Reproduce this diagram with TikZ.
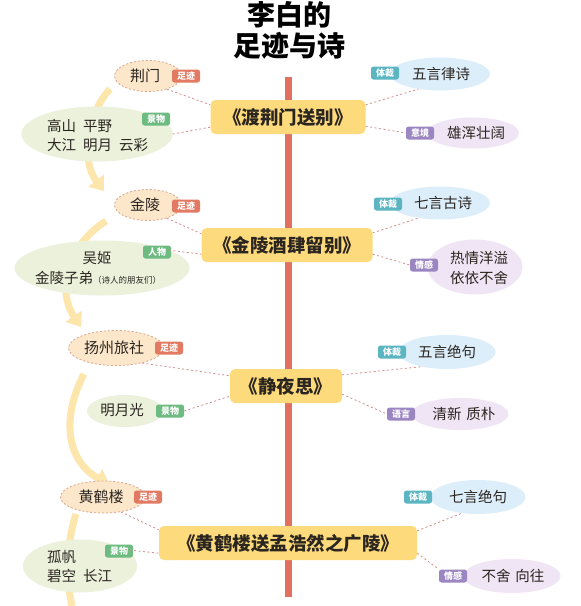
\documentclass[tikz,border=0pt]{standalone}
\usepackage{fontspec}
\setmainfont{Noto Sans CJK SC}
\usetikzlibrary{arrows.meta,shapes.geometric}
\definecolor{redline}{HTML}{E2705F}
\definecolor{poemfill}{HTML}{FDDB7C}
\definecolor{fpfill}{HTML}{FCE7CA}
\definecolor{fpdash}{HTML}{D9A48E}
\definecolor{fptag}{HTML}{E27A63}
\definecolor{scfill}{HTML}{EBF1DB}
\definecolor{sctag}{HTML}{6DBB80}
\definecolor{bluefill}{HTML}{DDEEFB}
\definecolor{bluetag}{HTML}{5CB6C2}
\definecolor{purfill}{HTML}{F0E5F4}
\definecolor{purtag}{HTML}{9C86C2}
\definecolor{arrowc}{HTML}{FCE6AC}
\definecolor{dotc}{HTML}{D48C8C}
\definecolor{inkc}{HTML}{2B2520}
\tikzset{
  poem/.style={rectangle, rounded corners=5pt, fill=poemfill, minimum height=34pt, inner sep=0pt, text=inkc, font=\fontsize{18.5}{18.5}\selectfont\bfseries},
  ell/.style={ellipse, inner sep=0pt},
  fpell/.style={ell, fill=fpfill, draw=fpdash, line width=0.8pt, dash pattern=on 2pt off 2pt},
  scell/.style={ell, fill=scfill},
  blell/.style={ell, fill=bluefill},
  puell/.style={ell, fill=purfill},
  tagbox/.style={rectangle, rounded corners=2.5pt, minimum width=28pt, minimum height=13pt, inner sep=0pt, text=white, font=\fontsize{9}{9}\selectfont\bfseries},
  txt/.style={inner sep=0pt, text=inkc, font=\fontsize{14.5}{14.5}\selectfont},
  fptxt/.style={inner sep=0pt, text=inkc, font=\fontsize{15}{15}\selectfont},
  conn/.style={draw=dotc, line width=0.8pt, dash pattern=on 2pt off 2.5pt},
  flow/.style={draw=arrowc, line width=7pt},
  flowtip/.style={flow, -{Triangle[width=19pt,length=13pt]}}
}
\begin{document}
\begin{tikzpicture}[x=1pt,y=-1pt]
\useasboundingbox (0,0) rectangle (581,606);
\fill[white] (0,0) rectangle (581,606);
% timeline
\coordinate (ltop) at (288,77);
\coordinate (lbot) at (288,597);
\draw[redline, line width=7pt] (ltop) -- (lbot);
% flow arrows
\coordinate (a1s) at (110,89);  \coordinate (a1e) at (104,191);
\coordinate (a2s) at (106,221); \coordinate (a2e) at (81,327);
\coordinate (a3s) at (84,374);  \coordinate (a3e) at (109,484);
\coordinate (a4s) at (76,514);  \coordinate (a4e) at (72,606);
\draw[flowtip] (a1s) .. controls (88,112) and (80,160) .. (a1e);
\draw[flowtip] (a2s) .. controls (68,245) and (56,290) .. (a2e);
\draw[flowtip] (a3s) .. controls (60,420) and (68,462) .. (a3e);
\draw[flow] (a4s) .. controls (66,545) and (66,580) .. (a4e);
% title
\node[inner sep=0pt, text=black, font=\fontsize{28}{28}\selectfont\bfseries] (t1) at (289,15) {李白的};
\node[inner sep=0pt, text=black, font=\fontsize{28}{28}\selectfont\bfseries] (t2) at (289,46) {足迹与诗};

% ---------- row 1
\node[fpell, minimum width=67pt, minimum height=31pt] (fp1) at (148,76) {};
\node[fptxt] (fp1t) at (145,76) {荆门};
\node[tagbox, fill=fptag] (fp1g) at (186,76) {足迹};
\node[scell, minimum width=151pt, minimum height=55pt] (sc1) at (97,134) {};
\node[txt, anchor=west] (sc1a) at (47,126) {高山\hspace{7pt}平野};
\node[txt, anchor=west] (sc1b) at (47,145) {大江\hspace{7pt}明月\hspace{7pt}云彩};
\node[tagbox, fill=sctag] (sc1g) at (156,119) {景物};
\node[poem, minimum width=155pt] (b1) at (288,117) {《渡荆门送别》};
\node[blell, minimum width=100pt, minimum height=33pt] (g1) at (440,74) {};
\node[tagbox, fill=bluetag] (g1g) at (385,73) {体裁};
\node[txt] (g1t) at (441,74) {五言律诗};
\node[puell, minimum width=92pt, minimum height=31pt] (e1) at (473,133) {};
\node[tagbox, fill=purtag] (e1g) at (420,133) {意境};
\node[txt] (e1t) at (476,133) {雄浑壮阔};
\draw[conn] (fp1.-35) -- ([yshift=-5pt]b1.north west);
\draw[conn] (sc1.east) -- ([yshift=7pt]b1.south west);
\draw[conn] ([yshift=-5pt]b1.north east) -- (g1.-145);
\draw[conn] ([yshift=8pt]b1.south east) -- (e1g.west);

% ---------- row 2
\node[fpell, minimum width=67pt, minimum height=31pt] (fp2) at (148,205) {};
\node[fptxt] (fp2t) at (145,205) {金陵};
\node[tagbox, fill=fptag] (fp2g) at (186,206) {足迹};
\node[scell, minimum width=175pt, minimum height=55pt] (sc2) at (102,268) {};
\node[txt] (sc2a) at (97,258) {吴姬};
\node[txt, anchor=west] (sc2b) at (35,278) {金陵子弟\fontsize{8.5}{8.5}\selectfont（诗人的朋友们）};
\node[tagbox, fill=sctag] (sc2g) at (157,252) {人物};
\node[poem, minimum width=171pt] (b2) at (287,245) {《金陵酒肆留别》};
\node[blell, minimum width=100pt, minimum height=33pt] (g2) at (440,203) {};
\node[tagbox, fill=bluetag] (g2g) at (388,204) {体裁};
\node[txt] (g2t) at (443,203) {七言古诗};
\node[puell, minimum width=95pt, minimum height=55pt] (e2) at (475,267) {};
\node[tagbox, fill=purtag] (e2g) at (424,265) {情感};
\node[txt] (e2a) at (479,258) {热情洋溢};
\node[txt] (e2b) at (479,278) {依依不舍};
\draw[conn] (fp2.-35) -- ([yshift=-6pt]b2.north west);
\draw[conn] (sc2.15) -- ([yshift=8pt]b2.south west);
\draw[conn] ([yshift=-5pt]b2.north east) -- (g2.-145);
\draw[conn] ([yshift=8pt]b2.south east) -- (e2g.west);

% ---------- row 3
\node[fpell, minimum width=95pt, minimum height=35pt] (fp3) at (116,348) {};
\node[fptxt] (fp3t) at (114,348) {扬州旅社};
\node[tagbox, fill=fptag] (fp3g) at (169,348) {足迹};
\node[scell, minimum width=76pt, minimum height=32pt] (sc3) at (125,411) {};
\node[txt] (sc3t) at (122,410) {明月光};
\node[tagbox, fill=sctag] (sc3g) at (170,411) {景物};
\node[poem, minimum width=112pt] (b3) at (286,386) {《静夜思》};
\node[blell, minimum width=97pt, minimum height=34pt] (g3) at (447,352) {};
\node[tagbox, fill=bluetag] (g3g) at (392,352) {体裁};
\node[txt] (g3t) at (447,352) {五言绝句};
\node[puell, minimum width=97pt, minimum height=32pt] (e3) at (460,414) {};
\node[tagbox, fill=purtag] (e3g) at (401,414) {语言};
\node[txt] (e3t) at (464,414) {清新\hspace{5pt}质朴};
\draw[conn] (fp3.-30) -- ([yshift=-7pt]b3.north west);
\draw[conn] (sc3g.east) -- ([yshift=7pt]b3.south west);
\draw[conn] ([yshift=-6pt]b3.north east) -- (g3.-150);
\draw[conn] ([yshift=9pt]b3.south east) -- (e3g.west);

% ---------- row 4
\node[fpell, minimum width=85pt, minimum height=32pt] (fp4) at (103,497) {};
\node[fptxt] (fp4t) at (101,497) {黄鹤楼};
\node[tagbox, fill=fptag] (fp4g) at (148,497) {足迹};
\node[scell, minimum width=114pt, minimum height=53pt] (sc4) at (80,566) {};
\node[txt, anchor=west] (sc4a) at (47,557) {孤帆};
\node[txt, anchor=west] (sc4b) at (47,576) {碧空\hspace{7pt}长江};
\node[tagbox, fill=sctag] (sc4g) at (119,551) {景物};
\node[poem, minimum width=258pt] (b4) at (288,543) {《黄鹤楼送孟浩然之广陵》};
\node[blell, minimum width=95pt, minimum height=34pt] (g4) at (478,497) {};
\node[tagbox, fill=bluetag] (g4g) at (418,497) {体裁};
\node[txt] (g4t) at (478,497) {七言绝句};
\node[puell, minimum width=97pt, minimum height=34pt] (e4) at (512,576) {};
\node[tagbox, fill=purtag] (e4g) at (453,576) {情感};
\node[txt] (e4t) at (513,576) {不舍\hspace{5pt}向往};
\draw[conn] (fp4.-40) -- ([yshift=-4pt]b4.north west);
\draw[conn] (sc4.20) -- ([yshift=7pt]b4.south west);
\draw[conn] ([yshift=-5pt]b4.north east) -- (g4.-135);
\draw[conn] ([yshift=7pt]b4.south east) -- (e4g.north west);
\end{tikzpicture}
\end{document}
